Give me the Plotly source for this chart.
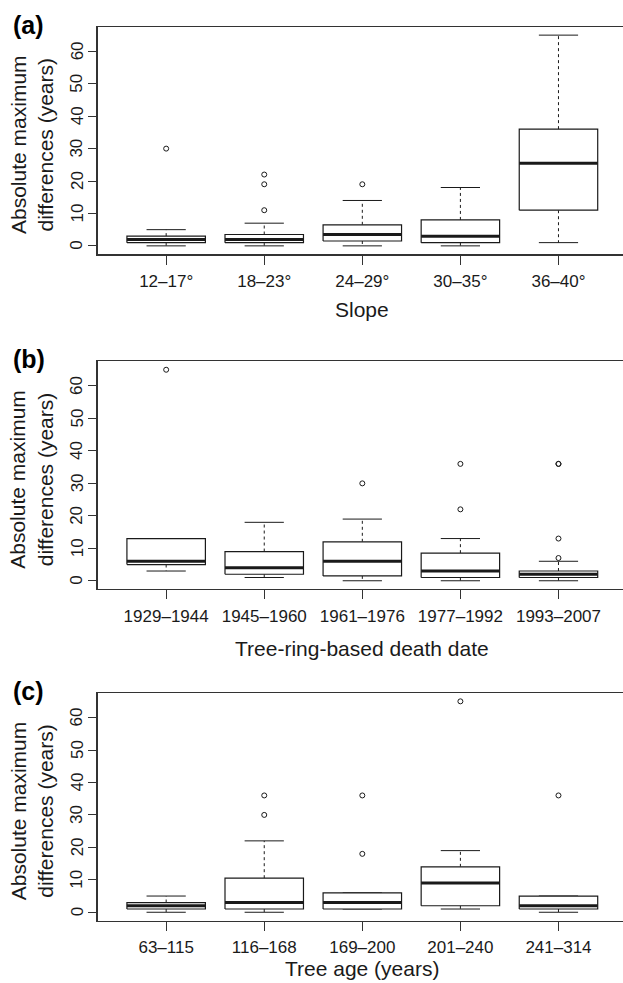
import plotly.graph_objects as go

W, H = 623, 983

# ---------------- data ----------------
slope_labels = ["12–17°", "18–23°", "24–29°", "30–35°", "36–40°"]
slope_lower = [0, 0, 0, 0, 1]
slope_q1 = [1, 1, 1.5, 1, 11]
slope_median = [2, 2, 3.5, 3, 25.5]
slope_q3 = [3, 3.5, 6.5, 8, 36]
slope_upper = [5, 7, 14, 18, 65]
slope_outliers = [[30], [22, 19, 11], [19], [], []]

death_labels = ["1929–1944", "1945–1960", "1961–1976", "1977–1992", "1993–2007"]
death_lower = [3, 1, 0, 0, 0]
death_q1 = [5, 2, 1.5, 1, 1]
death_median = [6, 4, 6, 3, 2]
death_q3 = [13, 9, 12, 8.5, 3]
death_upper = [13, 18, 19, 13, 6]
death_outliers = [[65], [], [30], [36, 22], [36, 36, 13, 7]]

age_labels = ["63–115", "116–168", "169–200", "201–240", "241–314"]
age_lower = [0, 0, 1, 1, 0]
age_q1 = [1, 1, 1, 2, 1]
age_median = [2, 3, 3, 9, 2]
age_q3 = [3, 10.5, 6, 14, 5]
age_upper = [5, 22, 6, 19, 5]
age_outliers = [[], [36, 30], [36, 18], [65], [36]]

y_ticks = [0, 10, 20, 30, 40, 50, 60]
y_title = "Absolute maximum<br>differences (years)"

panels = [
    dict(tag="(a)", xlab="Slope", labels=slope_labels, lower=slope_lower, q1=slope_q1,
         med=slope_median, q3=slope_q3, upper=slope_upper, out=slope_outliers,
         top=26.7, bottom=254.3, tag_y=25, xlab_bottom=323),
    dict(tag="(b)", xlab="Tree-ring-based death date", labels=death_labels, lower=death_lower,
         q1=death_q1, med=death_median, q3=death_q3, upper=death_upper, out=death_outliers,
         top=361.3, bottom=589.2, tag_y=359, xlab_bottom=662),
    dict(tag="(c)", xlab="Tree age (years)", labels=age_labels, lower=age_lower, q1=age_q1,
         med=age_median, q3=age_q3, upper=age_upper, out=age_outliers,
         top=692.9, bottom=920.7, tag_y=691, xlab_bottom=982),
]

# ---------------- style ----------------
FONT = "Liberation Sans, Arial, Helvetica, sans-serif"
INK = "#1a1a1a"
FRAME = "#333333"
HALF = 0.4      # half box width (R boxwex 0.8)
CAP = 0.2       # half staple width
LEFT_PX = 97.5
UNIT_PX = 98.08
YTICK_X_PX = 77
x_range = [0.3, 0.3 + (W - LEFT_PX) / UNIT_PX]
y_range = [-2.6, 67.6]


def py(px):
    return 1 - px / H


fig = go.Figure()
annotations = []
layout_axes = {}

for k, p in enumerate(panels):
    n = k + 1
    xa = "x" if n == 1 else f"x{n}"
    ya = "y" if n == 1 else f"y{n}"
    pos = list(range(1, len(p["labels"]) + 1))

    wx, wy, cx, cy, bx, by, mx, my, ox, oy = [], [], [], [], [], [], [], [], [], []
    for i, xp in enumerate(pos):
        # whiskers (dashed)
        wx += [xp, xp, None, xp, xp, None]
        wy += [p["q3"][i], p["upper"][i], None, p["q1"][i], p["lower"][i], None]
        # staples
        cx += [xp - CAP, xp + CAP, None, xp - CAP, xp + CAP, None]
        cy += [p["upper"][i], p["upper"][i], None, p["lower"][i], p["lower"][i], None]
        # box
        bx += [xp - HALF, xp + HALF, xp + HALF, xp - HALF, xp - HALF, None]
        by += [p["q1"][i], p["q1"][i], p["q3"][i], p["q3"][i], p["q1"][i], None]
        # median
        mx += [xp - HALF, xp + HALF, None]
        my += [p["med"][i], p["med"][i], None]
        for v in p["out"][i]:
            ox.append(xp)
            oy.append(v)

    common = dict(xaxis=xa, yaxis=ya, showlegend=False, hoverinfo="skip")
    fig.add_trace(go.Scatter(x=wx, y=wy, mode="lines",
                             line=dict(color=INK, width=1, dash="3px,3px"), **common))
    fig.add_trace(go.Scatter(x=cx, y=cy, mode="lines",
                             line=dict(color=INK, width=1), **common))
    fig.add_trace(go.Scatter(x=bx, y=by, mode="lines", fill="toself", fillcolor="white",
                             line=dict(color=INK, width=1.2), **common))
    fig.add_trace(go.Scatter(x=mx, y=my, mode="lines",
                             line=dict(color=INK, width=3), **common))
    fig.add_trace(go.Scatter(x=ox, y=oy, mode="markers",
                             marker=dict(symbol="circle-open", size=5, color=INK,
                                         line=dict(width=1, color=INK)), **common))

    xkey = "xaxis" if n == 1 else f"xaxis{n}"
    ykey = "yaxis" if n == 1 else f"yaxis{n}"
    layout_axes[xkey] = dict(
        domain=[LEFT_PX / W, 1], anchor=ya, range=x_range,
        tickmode="array", tickvals=pos, ticktext=p["labels"],
        ticks="outside", ticklen=9, tickwidth=1, tickcolor=FRAME,
        showline=True, linecolor=FRAME, linewidth=1.2, mirror=True,
        showgrid=False, zeroline=False, ticklabelstandoff=2, automargin=False,
        tickfont=dict(family=FONT, size=17, color=INK),
    )
    layout_axes[ykey] = dict(
        domain=[py(p["bottom"]), py(p["top"])], anchor=xa, range=y_range,
        tickmode="array", tickvals=y_ticks, showticklabels=False,
        ticks="outside", ticklen=8, tickwidth=1, tickcolor=FRAME,
        showline=True, linecolor=FRAME, linewidth=1.2, mirror=False,
        showgrid=False, zeroline=False, automargin=False,
    )

    # rotated y tick labels, placed at the tick values on this panel's y axis
    for t in y_ticks:
        annotations.append(dict(text=str(t), xref="paper", yref=ya, x=YTICK_X_PX / W, y=t,
                                xanchor="center", yanchor="middle", textangle=-90,
                                showarrow=False, font=dict(family=FONT, size=17, color=INK)))

    annotations.append(dict(text="<b>" + p["tag"] + "</b>", xref="paper", yref="paper",
                            x=11 / W, y=py(p["tag_y"]), xanchor="left", yanchor="middle",
                            showarrow=False, font=dict(family=FONT, size=25, color="black")))
    annotations.append(dict(text=p["xlab"], xref="paper", yref="paper",
                            x=(LEFT_PX + (3 - x_range[0]) * UNIT_PX) / W,
                            y=py(p["xlab_bottom"]), xanchor="center", yanchor="bottom",
                            showarrow=False, font=dict(family=FONT, size=21, color=INK)))
    annotations.append(dict(text=y_title, xref="paper", yref="paper", x=31.5 / W,
                            y=py((p["top"] + p["bottom"]) / 2 + 4), xanchor="center",
                            yanchor="middle", textangle=-90, showarrow=False,
                            font=dict(family=FONT, size=21, color=INK)))

fig.update_layout(
    width=W, height=H,
    margin=dict(l=0, r=0, t=0, b=0),
    paper_bgcolor="white", plot_bgcolor="white",
    annotations=annotations,
    hovermode=False,
    **layout_axes,
)

# remove the browser's default 8px body margin so the figure fills the window exactly
fig.write_html("out.html",
               config={"displayModeBar": False, "staticPlot": True},
               post_script="document.body.style.margin='0';"
                           "document.body.style.overflow='hidden';")
